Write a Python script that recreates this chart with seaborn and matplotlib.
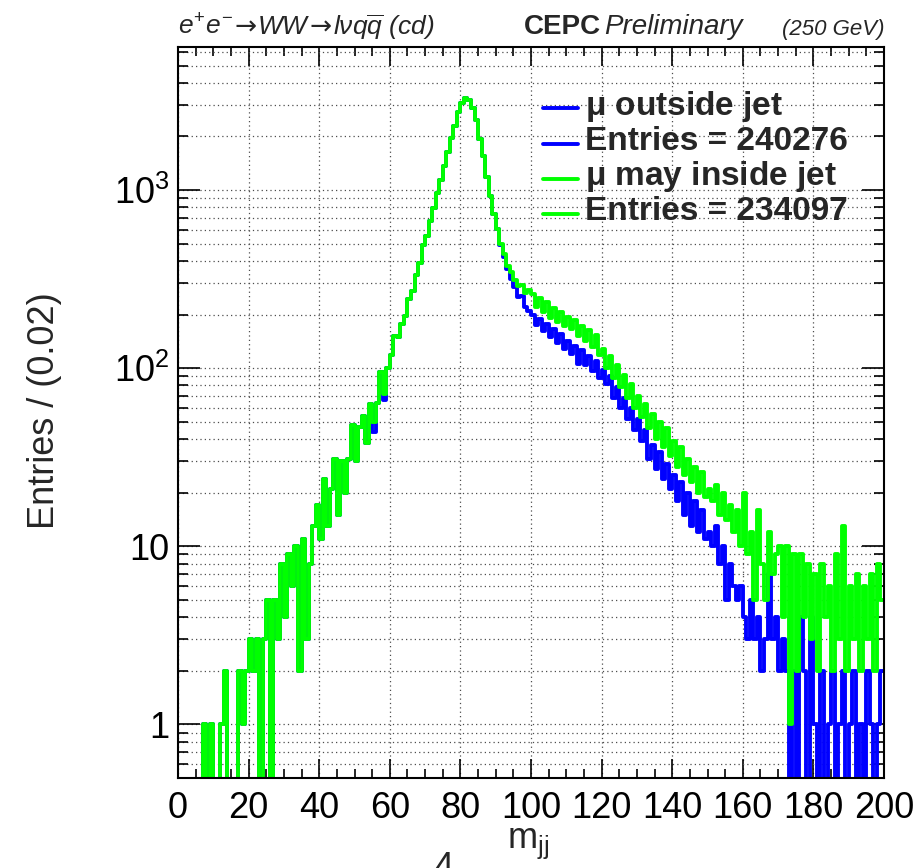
import numpy as np
import pandas as pd
import matplotlib
matplotlib.use('Agg')
import matplotlib.pyplot as plt
import seaborn as sns
from matplotlib.lines import Line2D
from matplotlib.ticker import MultipleLocator, LogLocator, NullFormatter

# m_jj histogram, 1 GeV bins from 0 to 200 (counts)
bin_lo = list(range(0, 200))

mu_outside = [
    0, 0, 0, 0, 0, 0, 0, 1, 0, 1,
    0, 0, 1, 2, 0, 0, 0, 2, 1, 2,
    3, 2, 3, 0, 3, 5, 0, 5, 3, 8,
    4, 9, 6, 10, 2, 11, 3, 8, 13, 17,
    11, 24, 13, 21, 31, 15, 30, 20, 31, 48,
    30, 47, 54, 38, 63, 44, 64, 95, 66, 100,
    118, 152, 150, 178, 196, 245, 272, 335, 390, 490,
    550, 670, 790, 960, 1140, 1360, 1640, 1960, 2290, 2760,
    3100, 3280, 3210, 2880, 2460, 1940, 1560, 1190, 930, 735,
    605, 490, 420, 360, 318, 285, 250, 255, 220, 210,
    198, 175, 190, 162, 178, 150, 165, 138, 155, 128,
    142, 120, 134, 106, 126, 104, 117, 96, 110, 88,
    98, 82, 90, 68, 78, 60, 68, 52, 60, 45,
    52, 39, 45, 31, 37, 27, 34, 24, 29, 21,
    25, 18, 23, 15, 20, 13, 18, 12, 16, 11,
    12, 10, 13, 8, 10, 5, 8, 6, 5, 6,
    4, 3, 5, 3, 4, 2, 3, 7, 3, 4,
    2, 3, 2, 0, 2, 0, 4, 2, 0, 4,
    1, 0, 2, 0, 1, 2, 0, 1, 2, 0,
    1, 2, 0, 1, 0, 2, 1, 0, 1, 2,
]

mu_inside = [
    0, 0, 0, 0, 0, 0, 0, 1, 0, 1,
    0, 0, 1, 2, 0, 0, 0, 2, 1, 2,
    3, 2, 3, 0, 3, 5, 0, 5, 3, 8,
    4, 9, 6, 10, 2, 11, 3, 8, 13, 17,
    11, 24, 13, 21, 31, 15, 30, 20, 31, 48,
    30, 47, 54, 38, 63, 50, 64, 95, 72, 100,
    118, 152, 150, 178, 196, 245, 272, 335, 390, 490,
    550, 670, 790, 960, 1140, 1360, 1640, 1960, 2290, 2760,
    3100, 3280, 3210, 2880, 2460, 1940, 1560, 1190, 930, 735,
    605, 495, 435, 375, 345, 312, 290, 295, 265, 275,
    262, 222, 248, 206, 234, 192, 218, 182, 208, 172,
    195, 165, 186, 152, 172, 142, 164, 132, 154, 118,
    128, 100, 117, 88, 104, 78, 92, 68, 82, 60,
    70, 53, 63, 46, 55, 40, 50, 36, 46, 32,
    39, 28, 36, 25, 31, 23, 28, 20, 26, 19,
    21, 18, 22, 15, 20, 14, 17, 12, 16, 10,
    20, 9, 12, 5, 16, 8, 5, 12, 7, 9,
    10, 4, 10, 1, 9, 2, 9, 4, 8, 3,
    7, 2, 8, 4, 6, 2, 9, 3, 13, 2,
    6, 3, 7, 2, 6, 3, 7, 2, 8, 5,
]

legend_labels = [r'$\mathregular{\mu}$ outside jet', 'Entries = 240276',
                 r'$\mathregular{\mu}$ may inside jet', 'Entries = 234097']
x_ticks = list(range(0, 201, 20))
y_ticks = [1, 10, 100, 1000]
y_ticklabels = ['1', '10', r'$\mathregular{10^{2}}$', r'$\mathregular{10^{3}}$']

blue = '#0000ff'
green = '#00ff00'

sns.set_style('ticks')
plt.rcParams['font.family'] = ['Liberation Sans', 'DejaVu Sans']
plt.rcParams['mathtext.fontset'] = 'custom'
plt.rcParams['mathtext.rm'] = 'Liberation Sans'
plt.rcParams['mathtext.it'] = 'Liberation Sans:italic'
plt.rcParams['mathtext.bf'] = 'Liberation Sans:bold'

hist = pd.DataFrame({'mjj': np.array(bin_lo) + 0.5,
                     'outside': mu_outside, 'inside': mu_inside})

fig = plt.figure(figsize=(9.22, 8.68), dpi=100)
ax = fig.add_axes([178 / 922, 90 / 868, 706 / 922, 731 / 868])

sns.histplot(data=hist, x='mjj', weights='outside', binwidth=1, binrange=(0, 200),
             element='step', fill=False, color=blue, linewidth=2.8, ax=ax)
sns.histplot(data=hist, x='mjj', weights='inside', binwidth=1, binrange=(0, 200),
             element='step', fill=False, color=green, linewidth=2.8, ax=ax)

ax.set_yscale('log')
ax.set_xlim(0, 200)
ax.set_ylim(0.5, 6360)
ax.set_xlabel('')
ax.set_ylabel('')

ax.set_xticks(x_ticks)
ax.xaxis.set_minor_locator(MultipleLocator(5))
ax.set_yticks(y_ticks, labels=y_ticklabels)
ax.yaxis.set_minor_locator(LogLocator(base=10, subs=np.arange(2, 10), numticks=30))
ax.yaxis.set_minor_formatter(NullFormatter())

ax.tick_params(which='both', direction='in', top=True, right=True, color='black',
               width=1.2, labelsize=26, labelcolor='black')
ax.tick_params(axis='x', which='major', length=14, pad=9)
ax.tick_params(axis='x', which='minor', length=6.5)
ax.tick_params(axis='y', which='major', length=16, pad=6)
ax.tick_params(axis='y', which='minor', length=7.5)

ax.set_axisbelow(True)
ax.grid(True, axis='x', which='major', color='0.3', linestyle=(0, (1, 2.5)), linewidth=0.9)
ax.grid(True, axis='y', which='both', color='0.3', linestyle=(0, (1, 2.5)), linewidth=0.9)
for s in ax.spines.values():
    s.set_color('black')
    s.set_linewidth(1.5)

# axis titles
fig.text(45 / 922, 1 - 411 / 868, 'Entries / (0.02)', rotation=90, ha='center', va='center',
         fontsize=26)
fig.text(528 / 922, 1 - 848 / 868, r'$\mathregular{m_{jj}}$', ha='center', va='baseline',
         fontsize=26)
fig.text(443 / 922, 1 - 878 / 868, '4', ha='center', va='baseline', fontsize=26)

# header: process label built from pieces so the arrows come from DejaVu
head_y = 1 - 34.5 / 868
prev = fig.text(178 / 922, head_y, r'$e^{+}e^{-}$', ha='left', va='baseline',
                fontsize=19, style='italic')
pieces = [('→', 'DejaVu Sans', 'normal'), ('WW', 'Liberation Sans', 'italic'),
          ('→', 'DejaVu Sans', 'normal'),
          (r'lνq$\overline{q}$ (cd)', 'Liberation Sans', 'italic')]
for txt, fam, sty in pieces:
    prev = ax.annotate(txt, xy=(1, head_y), xycoords=(prev, 'figure fraction'),
                       xytext=(1, 0), textcoords='offset points', ha='left', va='baseline',
                       fontsize=19, family=fam, style=sty, annotation_clip=False)

t_cepc = fig.text(524 / 922, head_y, 'CEPC', ha='left', va='baseline', fontsize=20,
                  weight='bold')
ax.annotate('Preliminary', xy=(1, head_y), xycoords=(t_cepc, 'figure fraction'),
            xytext=(2, 0), textcoords='offset points', ha='left', va='baseline',
            fontsize=20, style='italic', annotation_clip=False)
fig.text(884 / 922, head_y, '(250 GeV)', ha='right', va='baseline', fontsize=16,
         style='italic')

# legend
row_y = [108, 144, 179, 214]
row_col = [blue, blue, green, green]
for yy, col, lab in zip(row_y, row_col, legend_labels):
    fig.add_artist(Line2D([543 / 922, 578 / 922], [1 - yy / 868, 1 - yy / 868], color=col,
                          linewidth=2.8, transform=fig.transFigure))
    fig.text(585 / 922, 1 - (yy + 6.5) / 868, lab, ha='left', va='baseline', fontsize=24,
             weight='bold')

fig.savefig('out.png', dpi=100)
